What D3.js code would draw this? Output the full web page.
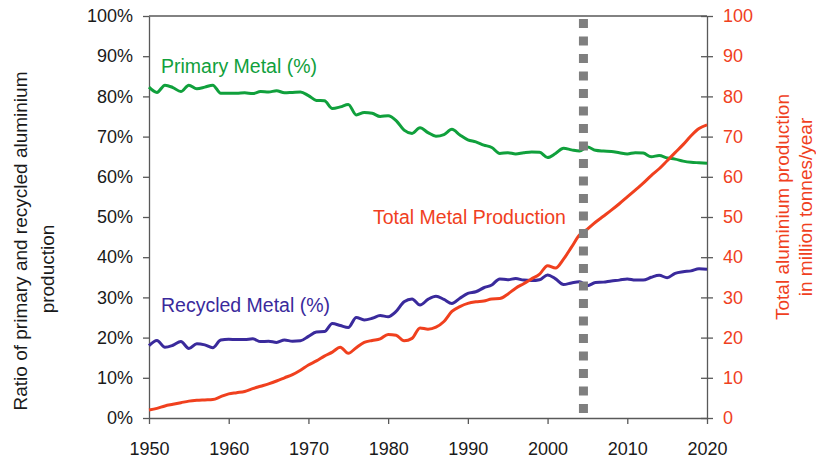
<!DOCTYPE html>
<meta charset="utf-8">

<!-- Load d3.js -->
<script src="https://d3js.org/d3.v7.min.js"></script>

<style>
  body { margin: 0; background: #fff; }
  text { font-family: "Liberation Sans", Arial, sans-serif; }
  .axis path, .axis line { stroke: #595959; stroke-width: 1.3; }
  .axis text { font-size: 18px; fill: #1a1a1a; }
  .axis.right text { fill: #f0401e; }
</style>

<svg id="chart" width="816" height="461"></svg>

<script>

// years on the x axis
var years = d3.range(1950, 2021);

// share of primary metal (%)
var primary = [
  82.3, 81.0, 82.8, 82.2, 81.2, 82.8, 81.9, 82.3, 82.8, 80.8,
  80.8, 80.8, 80.9, 80.7, 81.2, 81.1, 81.4, 80.9, 81.0, 81.1,
  80.2, 79.0, 78.9, 77.0, 77.4, 78.0, 75.4, 76.0, 75.8, 75.0,
  75.2, 74.0, 71.6, 70.8, 72.2, 71.0, 70.1, 70.5, 71.8, 70.4,
  69.2, 68.7, 67.9, 67.3, 65.8, 66.0, 65.7, 66.0, 66.2, 66.1,
  64.8, 65.8, 67.1, 66.7, 66.4, 67.4, 66.6, 66.4, 66.3, 66.0,
  65.7, 66.0, 65.9, 65.0, 65.3, 64.7, 64.4, 63.9, 63.6, 63.5,
  63.4
];

// share of recycled metal (%)
var recycled = [
  18.0, 19.3, 17.6, 18.1, 19.0, 17.3, 18.5, 18.2, 17.5, 19.4,
  19.6, 19.5, 19.5, 19.7, 19.0, 19.1, 18.8, 19.4, 19.1, 19.2,
  20.3, 21.4, 21.5, 23.5, 23.0, 22.5, 25.0, 24.4, 24.8, 25.5,
  25.2, 26.5, 28.9, 29.6, 28.1, 29.5, 30.3, 29.5, 28.5, 29.8,
  31.0, 31.4, 32.4, 33.1, 34.6, 34.4, 34.7, 34.3, 34.2, 34.4,
  35.6, 34.6, 33.2, 33.6, 33.9, 32.9, 33.7, 33.8, 34.1, 34.3,
  34.6, 34.3, 34.3, 35.0, 35.5, 34.9, 36.0, 36.4, 36.6, 37.1,
  37.0
];

// total aluminium production (million tonnes / year)
var total = [
  2.0, 2.4, 3.0, 3.4, 3.8, 4.2, 4.4, 4.5, 4.6, 5.3,
  6.0, 6.3, 6.6, 7.3, 7.9, 8.5, 9.2, 10.0, 10.8, 11.9,
  13.2, 14.2, 15.4, 16.4, 17.6, 16.1, 17.5, 18.8, 19.3, 19.7,
  20.8, 20.6, 19.2, 19.8, 22.4, 22.1, 22.6, 24.0, 26.5, 27.7,
  28.5, 28.9, 29.1, 29.6, 29.7, 30.8, 32.3, 33.4, 34.6, 35.8,
  37.9, 37.3, 39.5, 42.5, 45.5, 47.0, 48.7, 50.2, 51.7, 53.3,
  55.0, 56.7, 58.4, 60.3, 62.0, 64.0, 66.0, 68.0, 70.2, 72.0,
  72.9
];

// tick values
var leftTicks = [0, 10, 20, 30, 40, 50, 60, 70, 80, 90, 100];
var rightTicks = [0, 10, 20, 30, 40, 50, 60, 70, 80, 90, 100];
var yearTicks = [1950, 1960, 1970, 1980, 1990, 2000, 2010, 2020];
var markerYear = 2004.5;

var colors = { primary: "#10a03c", recycled: "#3a2a9c", total: "#f0401e", marker: "#7f7f7f" };

var svg = d3.select("#chart");

var x = d3.scaleLinear().domain([1950, 2020]).range([149, 707]);
var yLeft = d3.scaleLinear().domain([0, 100]).range([418, 16]);
var yRight = d3.scaleLinear().domain([0, 100]).range([418, 16]);

// top border of the plot
svg.append("line")
  .attr("x1", x(1950)).attr("x2", x(2020))
  .attr("y1", yLeft(100)).attr("y2", yLeft(100))
  .attr("stroke", "#595959").attr("stroke-width", 1.3);

// left axis
svg.append("g")
  .attr("class", "axis left")
  .attr("transform", "translate(" + x(1950) + ",0)")
  .call(d3.axisLeft(yLeft)
    .tickValues(leftTicks)
    .tickSizeInner(6).tickSizeOuter(0)
    .tickPadding(10)
    .tickFormat(function(d) { return d + "%"; }));

// right axis, ticks crossing the line
var gRight = svg.append("g")
  .attr("class", "axis right")
  .attr("transform", "translate(" + x(2020) + ",0)")
  .call(d3.axisRight(yRight)
    .tickValues(rightTicks)
    .tickSizeInner(6).tickSizeOuter(0)
    .tickPadding(10));
gRight.selectAll(".tick line").attr("x1", -6);

// bottom axis
svg.append("g")
  .attr("class", "axis bottom")
  .attr("transform", "translate(0," + yLeft(0) + ")")
  .call(d3.axisBottom(x)
    .tickValues(yearTicks)
    .tickSizeInner(6).tickSizeOuter(0)
    .tickPadding(18)
    .tickFormat(d3.format("d")));

// lines
function drawLine(values, scale, color) {
  var line = d3.line()
    .x(function(d, i) { return x(years[i]); })
    .y(function(d) { return scale(d); })
    .curve(d3.curveMonotoneX);
  svg.append("path")
    .datum(values)
    .attr("d", line)
    .attr("fill", "none")
    .attr("stroke", color)
    .attr("stroke-width", 3)
    .attr("stroke-linejoin", "round");
}

drawLine(primary, yLeft, colors.primary);
drawLine(recycled, yLeft, colors.recycled);
drawLine(total, yRight, colors.total);

// dashed marker
svg.append("line")
  .attr("x1", x(markerYear)).attr("x2", x(markerYear))
  .attr("y1", 19).attr("y2", 414)
  .attr("stroke", colors.marker)
  .attr("stroke-width", 9)
  .attr("stroke-dasharray", "9,8.5");

// series labels
var labelFont = "19.5px";
svg.append("text").attr("x", 161).attr("y", 73)
  .style("font-size", labelFont).attr("fill", colors.primary)
  .text("Primary Metal (%)");
svg.append("text").attr("x", 161).attr("y", 312)
  .style("font-size", labelFont).attr("fill", colors.recycled)
  .text("Recycled Metal (%)");
svg.append("text").attr("x", 373).attr("y", 224)
  .style("font-size", labelFont).attr("fill", colors.total)
  .text("Total Metal Production");

// axis titles
function vText(cx, cy, str, color) {
  svg.append("text")
    .attr("transform", "translate(" + cx + "," + cy + ") rotate(-90)")
    .attr("text-anchor", "middle")
    .attr("dy", "0.35em")
    .style("font-size", "19px")
    .attr("fill", color)
    .text(str);
}
vText(20, 241, "Ratio of primary and recycled aluminium", "#1a1a1a");
vText(47, 269, "production", "#1a1a1a");
vText(782, 207, "Total aluminium production", colors.total);
vText(805, 207, "in million tonnes/year", colors.total);

</script>
